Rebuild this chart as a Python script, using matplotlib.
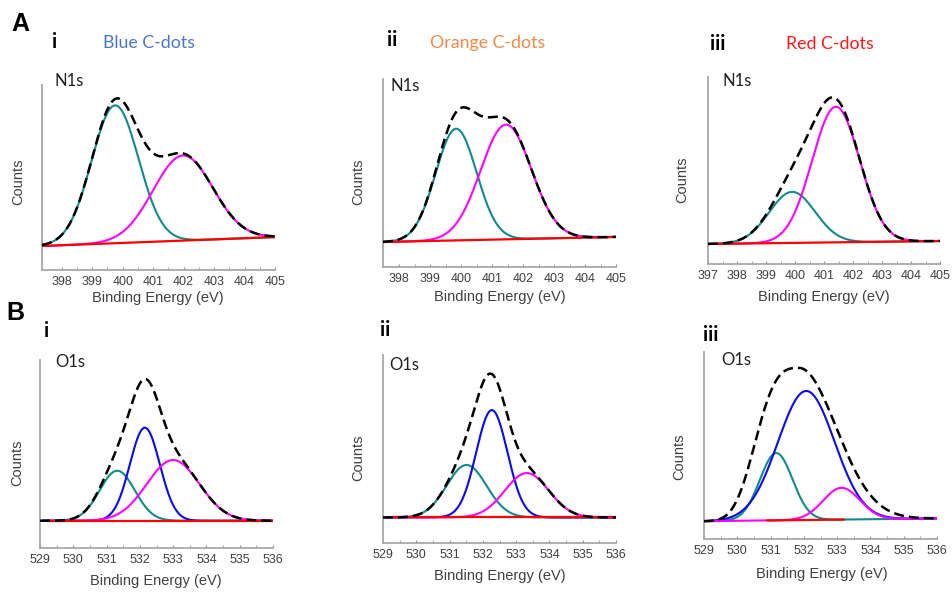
import numpy as np
import matplotlib
matplotlib.use("Agg")
import matplotlib.pyplot as plt

# ---------------------------------------------------------------
# data (y in arbitrary counts, 0..1 of frame)
# each component: centre (eV), height above baseline, sigma (eV)
# ---------------------------------------------------------------

n1s_blue_centres = [399.75, 401.98]
n1s_blue_heights = [0.745, 0.46]
n1s_blue_sigmas = [0.77, 0.98]
n1s_blue_colors = ["teal", "magenta"]
n1s_blue_base = [(397.4, 0.130), (405.0, 0.178)]

n1s_orange_centres = [399.84, 401.45]
n1s_orange_heights = [0.594, 0.61]
n1s_orange_sigmas = [0.66, 0.82]
n1s_orange_colors = ["teal", "magenta"]
n1s_orange_base = [(397.5, 0.133), (405.0, 0.160)]

n1s_red_centres = [399.9, 401.41]
n1s_red_heights = [0.273, 0.725]
n1s_red_sigmas = [0.79, 0.82]
n1s_red_colors = ["teal", "magenta"]
n1s_red_base = [(397.0, 0.107), (405.0, 0.123)]

o1s_blue_centres = [531.32, 532.15, 533.0]
o1s_blue_heights = [0.266, 0.495, 0.323]
o1s_blue_sigmas = [0.53, 0.45, 0.79]
o1s_blue_colors = ["teal", "blue", "magenta"]
o1s_blue_base = [(529.3, 0.145), (536.0, 0.145)]

o1s_orange_centres = [531.51, 532.27, 533.32]
o1s_orange_heights = [0.279, 0.571, 0.236]
o1s_orange_sigmas = [0.60, 0.47, 0.66]
o1s_orange_colors = ["teal", "blue", "magenta"]
o1s_orange_base = [(529.3, 0.136), (536.0, 0.136)]

o1s_red_centres = [531.17, 532.07, 533.13]
o1s_red_heights = [0.36, 0.69, 0.17]
o1s_red_sigmas = [0.49, 0.85, 0.55]
o1s_red_colors = ["teal", "blue", "magenta"]
o1s_red_base = [(529.0, 0.095), (536.0, 0.110)]
o1s_red_redspan = (530.9, 533.2)
# envelope of this panel is broader than the sum of its components:
# centre, height, (sigma, power) on the low side, (sigma, power) on the high side
o1s_red_envelope = (531.85, 0.814, (1.2, 3.15), (1.12, 2.0))

n1s_ticks = [398, 399, 400, 401, 402, 403, 404, 405]
n1s_ticks_red = [397, 398, 399, 400, 401, 402, 403, 404, 405]
o1s_ticks = [529, 530, 531, 532, 533, 534, 535, 536]

COLS = {"teal": "#138a8a", "magenta": "#ff00ff", "blue": "#0a0aee", "red": "#ff0000"}

W, H = 952, 592
fig = plt.figure(figsize=(W / 100, H / 100), dpi=100)


def px(x, y):
    return x / W, 1 - y / H


def gauss(x, c, h, s, p=2.0):
    return h * np.exp(-0.5 * np.abs((x - c) / s) ** p)


def panel(box, xlim, ticks, centres, heights, sigmas, colors, base,
          env=None, redspan=None):
    l, r, t, b = box
    ax = fig.add_axes([l / W, 1 - b / H, (r - l) / W, (b - t) / H])
    x = np.linspace(max(xlim[0], 529.0 if xlim[0] > 500 else xlim[0]), xlim[1], 700)
    bl = np.interp(x, [base[0][0], base[1][0]], [base[0][1], base[1][1]])
    total = bl.copy()
    for c, h, s, col in zip(centres, heights, sigmas, colors):
        g = gauss(x, c, h, s)
        total += g
        m = x >= base[0][0] - 0.2
        ax.plot(x[m], (bl + g)[m], color=COLS[col], lw=1.5, zorder=3)
    if redspan is None:
        redspan = (base[0][0], base[1][0])
    m = (x >= redspan[0]) & (x <= redspan[1])
    ax.plot(x[m], bl[m], color=COLS["red"], lw=1.6, zorder=4)
    if env is not None:
        c, h, (sl, pl), (sr, pr) = env
        total = bl + np.where(x < c, gauss(x, c, h, sl, pl), gauss(x, c, h, sr, pr))
    ax.plot(x, total, color="black", lw=1.8, dashes=(4, 2), zorder=5)

    ax.set_xlim(*xlim)
    ax.set_ylim(0, 1)
    ax.set_xticks(ticks)
    ax.set_xticks(np.arange(ticks[0], ticks[-1], 0.5), minor=True)
    ax.set_yticks([])
    ax.tick_params(axis="x", which="both", direction="in", length=2.5,
                   color="#909090", labelsize=9, labelcolor="#404040", pad=4)
    ax.spines[["top", "right"]].set_visible(False)
    for sp in ("left", "bottom"):
        ax.spines[sp].set_color("#a8a8a8")
        ax.spines[sp].set_linewidth(1.3)
    ax.patch.set_alpha(0)
    for lab in ax.get_xticklabels():
        lab.set_family("Liberation Sans")
    return ax


panel((42, 275, 85, 270), (397.35, 405), n1s_ticks, n1s_blue_centres,
      n1s_blue_heights, n1s_blue_sigmas, n1s_blue_colors, n1s_blue_base)
panel((383, 616, 79, 267), (397.48, 405), n1s_ticks, n1s_orange_centres,
      n1s_orange_heights, n1s_orange_sigmas, n1s_orange_colors, n1s_orange_base)
panel((708, 940, 77, 264), (397, 405), n1s_ticks_red, n1s_red_centres,
      n1s_red_heights, n1s_red_sigmas, n1s_red_colors, n1s_red_base)
panel((40, 273, 360, 548), (529, 536), o1s_ticks, o1s_blue_centres,
      o1s_blue_heights, o1s_blue_sigmas, o1s_blue_colors, o1s_blue_base)
panel((383, 616, 355, 543), (529, 536), o1s_ticks, o1s_orange_centres,
      o1s_orange_heights, o1s_orange_sigmas, o1s_orange_colors, o1s_orange_base)
panel((704, 937, 352, 539), (529, 536), o1s_ticks, o1s_red_centres,
      o1s_red_heights, o1s_red_sigmas, o1s_red_colors, o1s_red_base,
      env=o1s_red_envelope, redspan=o1s_red_redspan)

# ---------------- texts ----------------
def txt(x, y, s, **kw):
    fig.text(*px(x, y), s, **kw)

txt(11, 24, "A", fontsize=18, fontweight="bold", family="Liberation Sans", va="center")
txt(6, 313, "B", fontsize=18, fontweight="bold", family="Liberation Sans", va="center")

roman = [(52, 42, "i"), (387, 40, "ii"), (710, 44, "iii"),
         (44, 331, "i"), (380, 330, "ii"), (703, 335, "iii")]
for x, y, s in roman:
    txt(x, y, s, fontsize=14.5, fontweight="bold", family="Lato", va="center")

titles = [(103, 43, "Blue C-dots", "#4a76c8"),
          (430, 43, "Orange C-dots", "#ee8a4a"),
          (786, 44, "Red C-dots", "#ff1a1a")]
for x, y, s, c in titles:
    txt(x, y, s, fontsize=12.8, color=c, family="Lato", va="center")

cores = [(55, 81, "N1s"), (390, 86, "N1s"), (722, 81, "N1s"),
         (55, 362, "O1s"), (389, 365, "O1s"), (721, 360, "O1s")]
for x, y, s in cores:
    txt(x, y, s, fontsize=12, color="#202020", family="Lato", va="center")

counts = [(18, 182), (358, 182), (682, 180), (17, 463), (358, 458), (679, 457)]
for x, y in counts:
    txt(x, y, "Counts", fontsize=10.5, rotation=90, color="#404040",
        family="Liberation Sans", ha="center", va="center")

xlabels = [(158, 298), (500, 297), (824, 297), (156, 581), (500, 576), (822, 574)]
for x, y in xlabels:
    txt(x, y, "Binding Energy (eV)", fontsize=10.5, color="#404040",
        family="Liberation Sans", ha="center", va="center")

fig.savefig("out.png", dpi=100)
